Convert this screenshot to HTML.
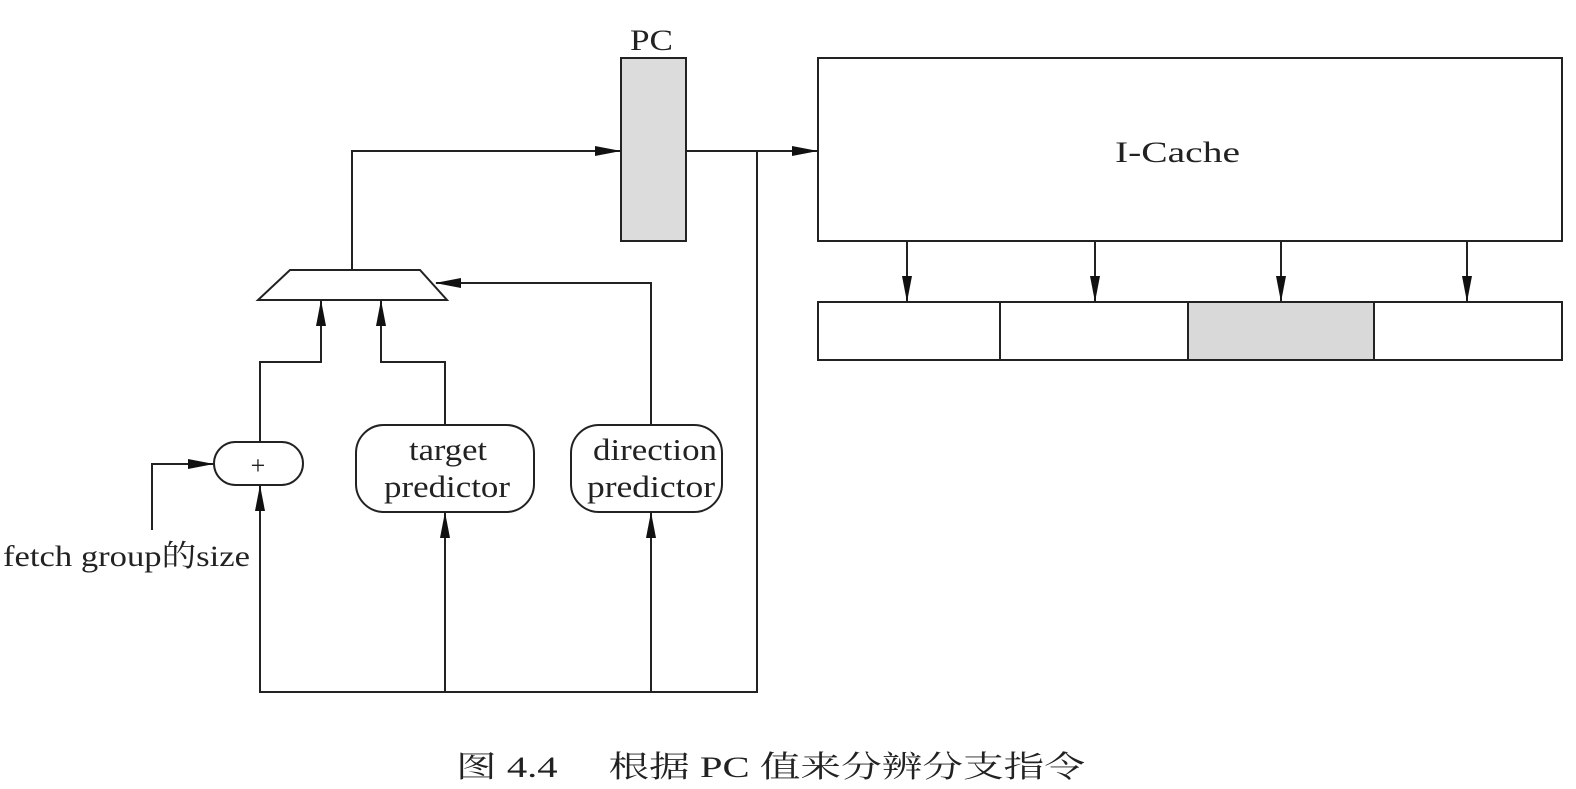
<!DOCTYPE html>
<html><head><meta charset="utf-8"><style>
html,body{margin:0;padding:0;background:#fff;}
svg{display:block;}
text{font-family:"Liberation Serif","Noto Serif CJK SC",serif;fill:#222;}
</style></head><body>
<svg width="1576" height="789" viewBox="0 0 1576 789" xmlns="http://www.w3.org/2000/svg">
<defs>
<marker id="a" markerWidth="26" markerHeight="12" refX="25" refY="6" orient="auto" markerUnits="userSpaceOnUse">
<path d="M0,1 L26,6 L0,11 Z" fill="#111"/>
</marker>
</defs>
<g stroke="#222" stroke-width="2" fill="none">
<rect x="621" y="58" width="65" height="183" fill="#dcdcdc"/>
<rect x="818" y="58" width="744" height="183" fill="#fff"/>
<rect x="1188" y="302" width="186" height="58" fill="#d9d9d9" stroke="none"/>
<rect x="818" y="302" width="744" height="58"/>
<line x1="1000" y1="302" x2="1000" y2="360"/>
<line x1="1188" y1="302" x2="1188" y2="360"/>
<line x1="1374" y1="302" x2="1374" y2="360"/>
<line x1="907" y1="241" x2="907" y2="301" marker-end="url(#a)"/>
<line x1="1095" y1="241" x2="1095" y2="301" marker-end="url(#a)"/>
<line x1="1281" y1="241" x2="1281" y2="301" marker-end="url(#a)"/>
<line x1="1467" y1="241" x2="1467" y2="301" marker-end="url(#a)"/>
<line x1="686" y1="151" x2="817" y2="151" marker-end="url(#a)"/>
<polygon points="290,270 420,270 447,300 258,300" fill="#fff"/>
<polyline points="352,270 352,151 620,151" marker-end="url(#a)"/>
<rect x="214" y="442" width="89" height="43" rx="21.5" fill="#fff"/>
<polyline points="152,530 152,464 213,464" marker-end="url(#a)"/>
<polyline points="260,442 260,362 321,362 321,301" marker-end="url(#a)"/>
<rect x="356" y="425" width="178" height="87" rx="28" fill="#fff"/>
<polyline points="445,425 445,362 381,362 381,301" marker-end="url(#a)"/>
<rect x="571" y="425" width="151" height="87" rx="28" fill="#fff"/>
<polyline points="651,425 651,283 436,283" marker-end="url(#a)"/>
<polyline points="757,151 757,692 260,692 260,486" marker-end="url(#a)"/>
<line x1="445" y1="692" x2="445" y2="513" marker-end="url(#a)"/>
<line x1="651" y1="692" x2="651" y2="513" marker-end="url(#a)"/>
</g>
<text x="630" y="50" font-size="30" textLength="43" lengthAdjust="spacingAndGlyphs">PC</text>
<text x="1115" y="162" font-size="30" textLength="125" lengthAdjust="spacingAndGlyphs">I-Cache</text>
<text x="258" y="474" font-size="26" text-anchor="middle">+</text>
<text x="409" y="460" font-size="31" textLength="78" lengthAdjust="spacingAndGlyphs">target</text>
<text x="384" y="497" font-size="31" textLength="126" lengthAdjust="spacingAndGlyphs">predictor</text>
<text x="593" y="460" font-size="31" textLength="124" lengthAdjust="spacingAndGlyphs">direction</text>
<text x="587" y="497" font-size="31" textLength="128" lengthAdjust="spacingAndGlyphs">predictor</text>
<text x="3" y="566" font-size="30" textLength="247" lengthAdjust="spacingAndGlyphs">fetch group的size</text>
<text x="456" y="777" font-size="30" textLength="629" lengthAdjust="spacingAndGlyphs">图 4.4　 根据 PC 值来分辨分支指令</text>
</svg>
</body></html>
